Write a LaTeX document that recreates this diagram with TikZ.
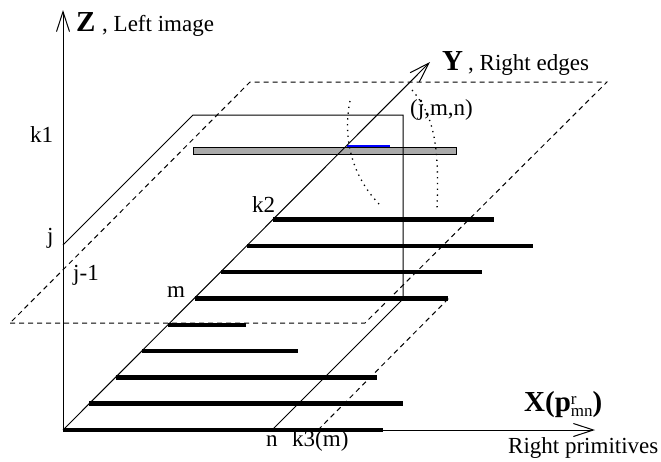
\documentclass[tikz,border=0pt]{standalone}
\usepackage{fontspec}
\setmainfont{Liberation Serif}
\usetikzlibrary{arrows.meta}
\newcommand\lblsz{\fontsize{23}{27}\selectfont}
\newcommand\bigsz{\fontsize{29}{33}\selectfont}
\newcommand\tinysz{\fontsize{17}{19}\selectfont}
\begin{document}
\begin{tikzpicture}[x=1pt,y=-1pt,
  thinline/.style={line width=1pt},
  axis/.style={line width=1pt, -{Straight Barb[length=20pt,width=13pt,line width=1pt]}},
  dashline/.style={line width=1pt, dash pattern=on 5pt off 4pt},
  bar/.style={line width=4.5pt},
  dotarc/.style={line width=1.3pt, dash pattern=on 1.3pt off 4.5pt},
  lbl/.style={font=\lblsz, inner sep=0pt, anchor=base west},
  biglbl/.style={font=\bigsz\bfseries, inner sep=0pt, anchor=base west}]
\useasboundingbox (0,0) rectangle (661,461);

% key coordinates
\coordinate (O) at (63,430);
\coordinate (Ztip) at (63,10);
\coordinate (Xtip) at (595,430);
\coordinate (Ytip) at (430,62);

% dashed plane j-1
\coordinate (d1) at (10,323);
\coordinate (d2) at (365,323);
\coordinate (d3) at (607,82);
\coordinate (d4) at (250,82);
\draw[dashline] (d1) -- (d2) -- (d3) -- (d4) -- cycle;

% dashed k3 line
\coordinate (k3a) at (318,430);
\coordinate (k3b) at (449,298);
\draw[dashline] (k3a) -- (k3b);

% gray bar and blue segment
\coordinate (g1) at (193,147);
\coordinate (g2) at (456,154);
\draw[thinline, fill={rgb,255:red,170;green,170;blue,170}] (g1) rectangle (g2);
\coordinate (b1) at (347,145.5);
\coordinate (b2) at (390,145.5);
\draw[line width=2pt, blue] (b1) -- (b2);

% solid plane j
\coordinate (s1) at (63,245);
\coordinate (s2) at (193,115);
\coordinate (s3) at (403,115);
\coordinate (s4) at (403,299);
\coordinate (s5) at (272,430);
\draw[thinline] (s1) -- (s2) -- (s3) -- (s4) -- (s5);

% dotted arcs
\coordinate (la) at (350,101);
\coordinate (lb) at (382,207);
\draw[dotarc] (la) .. controls (343,135) and (350,176) .. (lb);
\coordinate (ra) at (412,90);
\coordinate (rb) at (437,210);
\draw[dotarc] (ra) .. controls (436,118) and (439,150) .. (rb);

% bars
\foreach \i/\yy/\xe in {0/430/383, 1/403.7/403, 2/377.4/377, 3/351.1/298, 4/324.8/246, 5/298.5/448, 6/272.2/482, 7/245.9/533, 8/219.6/494}{
  \coordinate (bs\i) at ({63+430-\yy},\yy);
  \coordinate (be\i) at (\xe,\yy);
  \draw[bar] (bs\i) -- (be\i);
}

% axes
\draw[axis] (O) -- (Ztip);
\draw[axis] (O) -- (Xtip);
\draw[axis] (O) -- (Ytip);

% labels
\node[biglbl] (zb) at (76,31) {Z};
\node[lbl] (zl) at (102,31) {, Left image};
\node[biglbl] (yb) at (442,70) {Y};
\node[lbl] (yl) at (468,70) {, Right edges};
\node[biglbl] (xl) at (524,411) {X(p\hbox{\tinysz\mdseries\raisebox{7pt}{\rlap{r}}\raisebox{-5pt}{mn}})};
\node[lbl] (rp) at (508,453) {Right primitives};
\node[lbl] (jmn) at (410,115) {(j,m,n)};
\node[lbl] (k1) at (30,142) {k1};
\node[lbl] (jl) at (47,243) {j};
\node[lbl] (j1) at (73,280) {j-1};
\node[lbl] (ml) at (167,297) {m};
\node[lbl] (k2) at (252,212) {k2};
\node[lbl] (nl) at (266,446) {n};
\node[lbl] (k3) at (292,446) {k3(m)};
\end{tikzpicture}
\end{document}
